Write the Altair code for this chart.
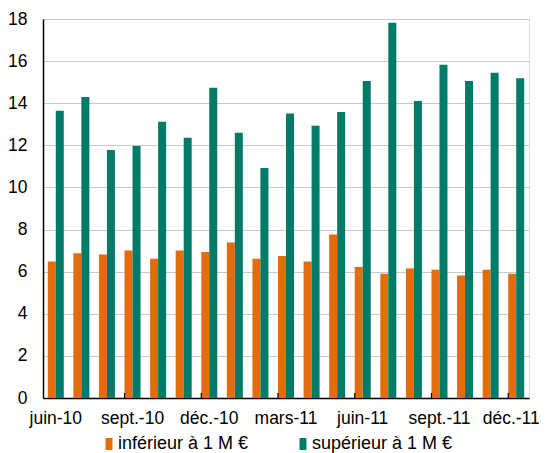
import altair as alt
import pandas as pd

months = ["juin-10", "juil.-10", "août-10", "sept.-10", "oct.-10", "nov.-10",
          "déc.-10", "janv.-11", "févr.-11", "mars-11", "avr.-11", "mai-11",
          "juin-11", "juil.-11", "août-11", "sept.-11", "oct.-11", "nov.-11",
          "déc.-11"]
inferieur = [6.48, 6.88, 6.81, 7.0, 6.61, 7.0, 6.93, 7.38, 6.61, 6.74,
             6.48, 7.76, 6.22, 5.9, 6.15, 6.09, 5.82, 6.09, 5.9]
superieur = [13.64, 14.29, 11.78, 11.97, 13.12, 12.36, 14.73, 12.6, 10.92,
             13.51, 12.93, 13.58, 15.06, 17.82, 14.1, 15.83, 15.06, 15.45, 15.19]
series = ["inférieur à 1 M €", "supérieur à 1 M €"]
colors = ["#E46C0A", "#007B67"]
y_ticks = list(range(0, 19, 2))
label_months = months[::3]
tick_months = months[3::3]

rows = []
for i, m in enumerate(months):
    rows.append({"month": m, "serie": series[0], "value": inferieur[i]})
    rows.append({"month": m, "serie": series[1], "value": superieur[i]})
df = pd.DataFrame(rows)

W, H = 486, 379
FONT = "Liberation Sans"

xscale = alt.Scale(domain=months, paddingInner=0.375, paddingOuter=0.1875)

last_label = months[-1]

bars = alt.Chart(df).mark_bar().encode(
    x=alt.X("month:N", scale=xscale, sort=months, title=None,
            axis=alt.Axis(values=label_months, ticks=False, labelAngle=0,
                          domainColor="#000", domainWidth=1.5,
                          labelPadding=11, labelFontSize=17.5, labelFont=FONT,
                          labelColor="#000", grid=False, labelOverlap=False,
                          labelBound=False,
                          labelOffset={"condition": {"test": f"datum.value === '{last_label}'",
                                                     "value": -5}, "value": 0})),
    xOffset=alt.XOffset("serie:N", scale=alt.Scale(domain=series, paddingInner=0, paddingOuter=0)),
    y=alt.Y("value:Q", scale=alt.Scale(domain=[0, 18], nice=False), title=None,
            axis=alt.Axis(values=y_ticks, ticks=False, domainColor="#000",
                          domainWidth=1.5, labelPadding=16, labelFontSize=17.5,
                          labelFont=FONT, labelColor="#000", gridColor="#c8c8c8",
                          gridWidth=1.2)),
    color=alt.Color("serie:N", scale=alt.Scale(domain=series, range=colors), title=None,
                    legend=alt.Legend(orient="none", legendX=57, legendY=416,
                                      direction="horizontal",
                                      symbolType="M-0.58,-1H0.58V1H-0.58Z",
                                      symbolSize=144, symbolStrokeWidth=0,
                                      labelFontSize=18, labelFont=FONT,
                                      labelColor="#000", labelOffset=0,
                                      columnPadding=45, padding=0)),
)

tick_df = pd.DataFrame({"month": tick_months})
ticks = alt.Chart(tick_df).mark_rule(color="#000", strokeWidth=1.2).encode(
    x=alt.X("month:N", scale=xscale, sort=months, bandPosition=0),
    y=alt.value(H),
    y2=alt.value(H - 5),
)

chart = alt.layer(bars, ticks).properties(
    width=W, height=H,
    autosize=alt.AutoSizeParams(type="none"),
    padding={"left": 35, "top": 11, "right": 10, "bottom": 55},
).configure_view(stroke="#333", strokeWidth=1.5).configure(background="white")

chart.save("out.html", embed_options={"renderer": "svg", "actions": False})
